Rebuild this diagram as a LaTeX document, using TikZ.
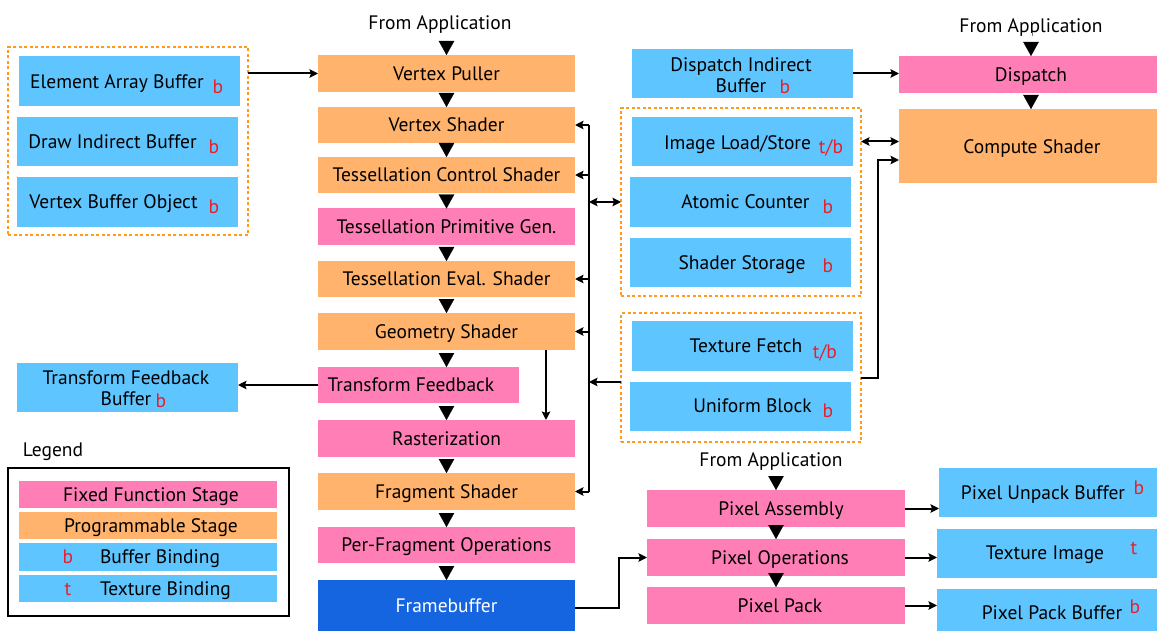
\documentclass[tikz,border=0pt]{standalone}
\usepackage{fontspec}
\setmainfont{PT Sans}
\usetikzlibrary{arrows.meta}
\definecolor{pinkc}{HTML}{FF7EB6}
\definecolor{orangec}{HTML}{FFB36C}
\definecolor{bluec}{HTML}{5EC5FF}
\definecolor{fbc}{HTML}{1565E0}
\definecolor{dashc}{HTML}{FF9A1A}
\definecolor{redc}{HTML}{E8202A}
\tikzset{
  box/.style={rectangle, inner sep=0pt, outer sep=0pt, text height=13.6pt, text depth=0pt},
  fixedbox/.style={box, fill=pinkc},
  progbox/.style={box, fill=orangec},
  bufbox/.style={box, fill=bluec},
  wh/.style 2 args={minimum width=#1pt, minimum height=#2pt},
  lbl/.style={inner sep=0pt, outer sep=0pt, text height=13.6pt, text depth=0pt},
  redl/.style={lbl, text=redc},
  twoline/.style={inner sep=0pt, outer sep=0pt, align=center},
  grp/.style={draw=dashc, line width=2pt, dash pattern=on 3pt off 2.5pt, inner sep=0pt, outer sep=0pt},
  flow/.style={draw=white, line width=0.1pt, -{Triangle[length=14pt,width=15.5pt,color=black]}},
  arr/.style={line width=2pt, -{Stealth[length=8.5pt,width=8.5pt,inset=1.5pt]}},
  darr/.style={line width=2pt, {Stealth[length=8.5pt,width=8.5pt,inset=1.5pt]}-{Stealth[length=8.5pt,width=8.5pt,inset=1.5pt]}},
  link/.style={line width=2pt},
}
\begin{document}
\begin{tikzpicture}[x=1pt, y=-1pt, font=\fontsize{19.5}{20.5}\selectfont]
\useasboundingbox (0,0) rectangle (1157,631);

% ---------- main pipeline ----------
\node[lbl] (fa1) at (440,22.5) {From Application};
\node[progbox, wh={257}{37}] (vp)   at (446.5,73.5)  {Vertex Puller};
\node[progbox, wh={257}{36}] (vs)   at (446.5,125)   {Vertex Shader};
\node[progbox, wh={257}{36}] (tcs)  at (446.5,175)   {Tessellation Control Shader};
\node[fixedbox, wh={257}{37}] (tpg) at (446.5,227)   {Tessellation Primitive Gen.};
\node[progbox, wh={257}{36}] (tes)  at (446.5,279)   {Tessellation Eval. Shader};
\node[progbox, wh={257}{37}] (gs)   at (446.5,331.5) {Geometry Shader};
\node[fixedbox, wh={201}{36}] (tf)  at (418.5,385)   {};
\node[lbl] (tft) at (411,385) {Transform Feedback};
\node[fixedbox, wh={257}{37}] (rast) at (446.5,438.5) {Rasterization};
\node[progbox, wh={257}{37}] (fs)   at (446.5,491.5) {Fragment Shader};
\node[fixedbox, wh={257}{36}] (pfo) at (446.5,545)   {Per-Fragment Operations};
\node[box, fill=fbc, text=white, wh={257}{51}] (fb) at (446.5,605.5) {Framebuffer};

\draw[flow] (vp.north |- fa1.south) -- (vp.north);
\draw[flow] (vp.south) -- (vs.north);
\draw[flow] (vs.south) -- (tcs.north);
\draw[flow] (tcs.south) -- (tpg.north);
\draw[flow] (tpg.south) -- (tes.north);
\draw[flow] (tes.south) -- (gs.north);
\draw[flow] (gs.south) -- (gs.south |- tf.north);
\draw[flow] (rast.north |- tf.south) -- (rast.north);
\draw[flow] (rast.south) -- (fs.north);
\draw[flow] (fs.south) -- (pfo.north);
\draw[flow] (pfo.south) -- (fb.north);

\draw[arr] ([xshift=-29pt]gs.south east) -- ([xshift=-29pt]rast.north east);

% ---------- left buffers ----------
\node[grp, wh={240}{188}] (lgrp) at (128,141) {};
\node[bufbox, wh={221}{50}] (eab) at (129.5,81) {};
\node[lbl] (eabt) at (117,82) {Element Array Buffer};
\node[redl] (eabb) at (218,87) {b};
\node[bufbox, wh={221}{49}] (dib) at (127.5,141.5) {};
\node[lbl] (dibt) at (112.5,142) {Draw Indirect Buffer};
\node[redl] (dibb) at (214,147) {b};
\node[bufbox, wh={221}{50}] (vbo) at (127.5,202) {};
\node[lbl] (vbot) at (113.5,202) {Vertex Buffer Object};
\node[redl] (vbob) at (214,207) {b};
\draw[arr] (vp.west -| lgrp.east) -- (vp.west);

\node[bufbox, wh={221}{49}] (tfb) at (127.5,387.5) {};
\node[twoline] (tfbt) at (126,388) {Transform Feedback\\Buffer};
\node[redl] (tfbb) at (161,401) {b};
\draw[arr] (tf.west) -- (tf.west -| tfb.east);

% ---------- legend ----------
\node[lbl, anchor=west] (legt) at (23,449.5) {Legend};
\node[draw, line width=2pt, inner sep=0pt, outer sep=0pt, wh={281}{148}] (legbox) at (148.5,542) {};
\node[fixedbox, wh={258}{27}] (lffs) at (148,494.5) {};
\node[lbl] (lffst) at (151,494.5) {Fixed Function Stage};
\node[progbox, wh={258}{27}] (lps) at (148,525.5) {};
\node[lbl] (lpst) at (151,525.5) {Programmable Stage};
\node[bufbox, wh={258}{28}] (lbb) at (148,557) {};
\node[redl] (lbbl) at (68,557) {b};
\node[lbl, anchor=west] (lbbt) at (100,557) {Buffer Binding};
\node[bufbox, wh={258}{27}] (ltb) at (148,588.5) {};
\node[redl] (ltbl) at (68,588.5) {t};
\node[lbl, anchor=west] (ltbt) at (100,588.5) {Texture Binding};

% ---------- bus ----------
\coordinate (bus) at (589,0);
\draw[link] (bus |- vs.east) -- (bus |- fs.east);
\foreach \n in {vs,tcs,tes,gs,fs} \draw[arr] (bus |- \n.east) -- (\n.east);

% ---------- compute side ----------
\node[bufbox, wh={221}{49}] (dib2) at (742.5,73.5) {};
\node[twoline] (dib2t) at (741,75) {Dispatch Indirect\\Buffer};
\node[redl] (dib2b) at (785,87) {b};
\node[lbl] (fa2) at (1031,26) {From Application};
\node[fixedbox, wh={258}{37}] (disp) at (1028,74.5) {};
\node[lbl] (dispt) at (1031,74.5) {Dispatch};
\node[progbox, wh={258}{74}] (cs) at (1028,146) {};
\node[lbl] (cst) at (1032,146.5) {Compute Shader};
\draw[flow] (fa2.south) -- (fa2.south |- disp.north);
\draw[flow] (disp.south -| fa2.south) -- (cs.north -| fa2.south);
\draw[arr] (dib2.east) -- (dib2.east -| disp.west);

\node[grp, wh={240}{188}] (grp1) at (741,202) {};
\node[bufbox, wh={221}{49}] (ils) at (742.5,141.5) {};
\node[lbl] (ilst) at (737.5,143) {Image Load/Store};
\node[redl] (ilsb) at (831,147) {t/b};
\node[bufbox, wh={221}{50}] (ac) at (740.5,202) {};
\node[lbl] (act) at (745.5,202) {Atomic Counter};
\node[redl] (acb) at (828,207) {b};
\node[bufbox, wh={221}{49}] (ss) at (740.5,262.5) {};
\node[lbl] (sst) at (742,263) {Shader Storage};
\node[redl] (ssb) at (828,266) {b};

\node[grp, wh={240}{129}] (grp2) at (741,377.5) {};
\node[bufbox, wh={221}{50}] (tfe) at (742.5,346) {};
\node[lbl] (tfet) at (746,346) {Texture Fetch};
\node[redl] (tfeb) at (825,352) {t/b};
\node[bufbox, wh={221}{49}] (ub) at (740.5,406.5) {};
\node[lbl] (ubt) at (752.5,406) {Uniform Block};
\node[redl] (ubb) at (828,411) {b};

\draw[darr] (bus |- grp1.west) -- (grp1.west);
\draw[arr] ([yshift=-4.5pt]grp2.west) -- ([yshift=-4.5pt]bus |- grp2.west);
\draw[darr] (grp1.east |- ils.east) -- (cs.west |- ils.east);
\draw[arr] (grp2.east) -- ++(17,0) |- ([yshift=-14pt]cs.west);

% ---------- pixel path ----------
\node[lbl] (fa3) at (771,460) {From Application};
\node[fixedbox, wh={258}{37}] (pa) at (776,508.5) {};
\node[lbl] (pat) at (781,508.5) {Pixel Assembly};
\node[fixedbox, wh={258}{37}] (po) at (776,557.5) {};
\node[lbl] (pot) at (780,557.5) {Pixel Operations};
\node[fixedbox, wh={258}{37}] (pp) at (776,605.5) {};
\node[lbl] (ppt) at (780,605.5) {Pixel Pack};
\draw[flow] (pa.north |- fa3.south) -- (pa.north);
\draw[flow] (pa.south) -- (po.north);
\draw[flow] (po.south) -- (pp.north);

\node[bufbox, wh={218}{49}] (pub) at (1048,492.5) {};
\node[lbl] (pubt) at (1043,493) {Pixel Unpack Buffer};
\node[redl] (pubb) at (1139,488) {b};
\node[bufbox, wh={220}{49}] (ti) at (1047,553.5) {};
\node[lbl] (tit) at (1045,553) {Texture Image};
\node[redl] (tib) at (1134,548) {t};
\node[bufbox, wh={220}{42}] (ppb) at (1047,610) {};
\node[lbl] (ppbt) at (1052,613) {Pixel Pack Buffer};
\node[redl] (ppbb) at (1135,607) {b};

\draw[arr] (pa.east) -- (pa.east -| pub.west);
\draw[arr] (po.east) -- (po.east -| ti.west);
\draw[arr] (pp.east) -- (pp.east -| ppb.west);
\draw[arr] ([yshift=-2pt]fb.east) -- ++(44,0) |- (po.west);
\end{tikzpicture}
\end{document}
